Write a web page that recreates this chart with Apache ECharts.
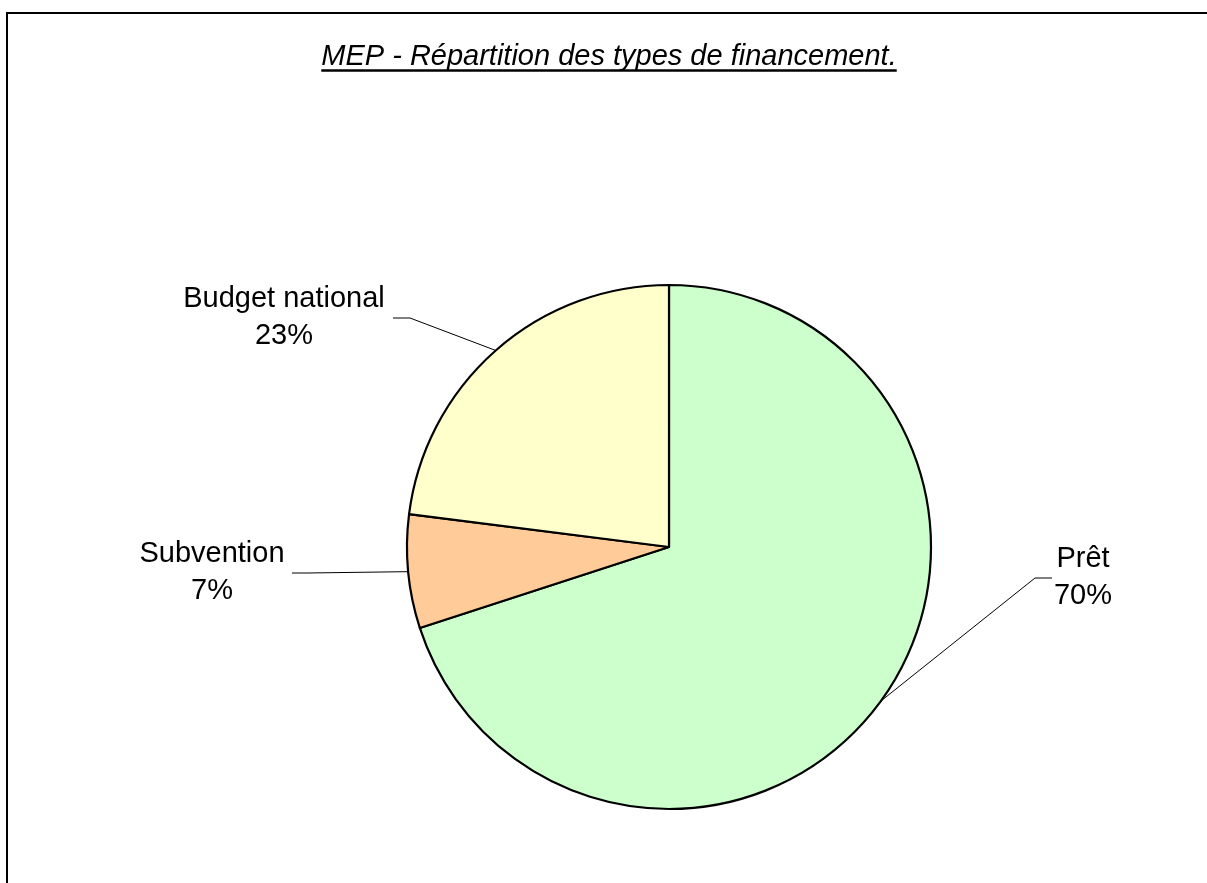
<!DOCTYPE html>
<html>
<head>
<meta charset="utf-8">
<script src="https://cdn.jsdelivr.net/npm/echarts@6/dist/echarts.min.js"></script>
<style>
html,body{margin:0;padding:0;background:#fff;}
#chart{width:1207px;height:883px;}
</style>
</head>
<body>
<div id="chart"></div>
<script>
const titleText = "MEP - Répartition des types de financement.";
const categories = ["Prêt", "Subvention", "Budget national"];
const values = [70, 7, 23];
const colors = ["#CCFFCC", "#FFCC99", "#FFFFCC"];

const FONT = '"Liberation Sans", Arial, sans-serif';
const chart = echarts.init(document.getElementById('chart'), null, {renderer: 'canvas'});

// measure title width for underline
const cv = document.createElement('canvas').getContext('2d');
cv.font = 'italic 29px "Liberation Sans", Arial, sans-serif';
const tw = cv.measureText(titleText).width;
const tcx = 609;

// label layout anchors: [label center x, label center y, stub end x, elbow x]
const labelAnchors = [
  [1083, 577, 1052, 1035],
  [212, 572, 292, 307],
  [284, 317, 393, 410]
];

chart.setOption({
  animation: false,
  graphic: [
    {type: 'rect', shape: {x: 7, y: 13, width: 1230, height: 900},
     style: {fill: 'none', stroke: '#000', lineWidth: 2}, silent: true},
    {type: 'text', x: tcx, y: 57,
     style: {text: titleText, font: 'italic 29px ' + FONT, fill: '#000',
             align: 'center', verticalAlign: 'middle'}},
    {type: 'line', shape: {x1: tcx - tw / 2, y1: 70.5, x2: tcx + tw / 2, y2: 70.5},
     style: {stroke: '#000', lineWidth: 2.5}}
  ],
  series: [{
    type: 'pie',
    center: [669, 547],
    radius: 262,
    startAngle: 90,
    clockwise: true,
    percentPrecision: 0,
    emphasis: {disabled: true},
    itemStyle: {borderColor: '#000', borderWidth: 2.2},
    label: {
      show: true,
      position: 'outside',
      formatter: '{b}\n{d}%',
      fontFamily: FONT,
      fontSize: 29,
      lineHeight: 37,
      color: '#000',
      align: 'center'
    },
    labelLine: {show: true, lineStyle: {color: '#000', width: 1}},
    labelLayout: function (params) {
      const a = labelAnchors[params.dataIndex];
      const p0 = params.labelLinePoints[0];
      const ly = a[1] + 1;
      return {
        x: a[0], y: a[1], align: 'center', verticalAlign: 'middle',
        labelLinePoints: [[p0[0], p0[1]], [a[3], ly], [a[2], ly]]
      };
    },
    data: categories.map((c, i) => ({name: c, value: values[i], itemStyle: {color: colors[i]}}))
  }]
});
</script>
</body>
</html>
